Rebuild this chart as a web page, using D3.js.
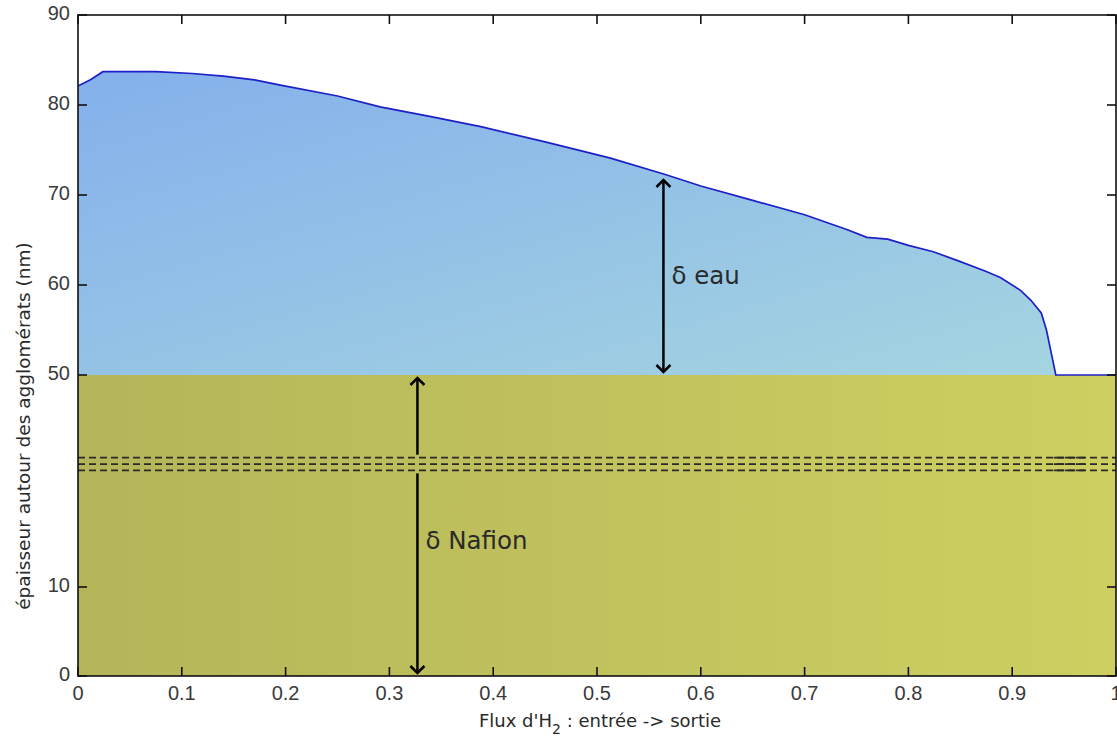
<!DOCTYPE html>
<html>
<head>
<meta charset="utf-8">
<script src="https://cdn.jsdelivr.net/npm/d3@7"></script>
<style>
html,body{margin:0;padding:0;background:#fff;}
svg{display:block;}
text{font-family:"Liberation Sans",Arial,sans-serif;}
</style>
</head>
<body>
<svg id="chart" width="1117" height="744"></svg>
<script>
// ---- data ----
const fluxX = [0, 0.012, 0.024, 0.075, 0.11, 0.14, 0.17, 0.195, 0.25, 0.291, 0.34, 0.388, 0.45, 0.513, 0.565, 0.6, 0.65, 0.7, 0.74, 0.76, 0.78, 0.8, 0.824, 0.85, 0.875, 0.889, 0.908, 0.918, 0.928, 0.933, 0.937, 0.942, 1.0];
const eauTop = [82.1, 82.8, 83.7, 83.7, 83.5, 83.2, 82.8, 82.2, 81.0, 79.8, 78.7, 77.6, 75.9, 74.1, 72.3, 71.0, 69.4, 67.8, 66.2, 65.3, 65.1, 64.4, 63.7, 62.6, 61.5, 60.8, 59.4, 58.3, 56.9, 55.0, 52.8, 50.0, 50.0];
const nafionTop = 50;
const xTicks = [0, 0.1, 0.2, 0.3, 0.4, 0.5, 0.6, 0.7, 0.8, 0.9, 1];
const yTicks = [0, 10, 50, 60, 70, 80, 90];
const breakValues = [32.0, 33.2, 34.4];
const arrowEau = {x: 0.564, from: 50, to: 72.0, label: "δ eau", labelY: 60.9};
const arrowNafion = {x: 0.327, from: 0, to: 50, label: "δ Nafion", labelY: 18.5};

// ---- layout ----
const svg = d3.select("#chart");
const L = 78, R = 1116, T = 15, B = 676;
const x = d3.scaleLinear().domain([0, 1]).range([L, R]);
const y = d3.scaleLinear().domain([0, 10, 50, 90]).range([B, 587, 375, T]);

const defs = svg.append("defs");
const gBlue = defs.append("linearGradient").attr("id", "gBlue")
  .attr("x1", 0).attr("y1", 0).attr("x2", 1).attr("y2", 1);
gBlue.append("stop").attr("offset", "0%").attr("stop-color", "#84b0ec");
gBlue.append("stop").attr("offset", "100%").attr("stop-color", "#a6d6e0");
const gOlive = defs.append("linearGradient").attr("id", "gOlive")
  .attr("x1", 0).attr("y1", 0).attr("x2", 1).attr("y2", 0);
gOlive.append("stop").attr("offset", "0%").attr("stop-color", "#b4b559");
gOlive.append("stop").attr("offset", "100%").attr("stop-color", "#cecf61");

const pts = fluxX.map((d, i) => [d, eauTop[i]]);

// water area
svg.append("path")
  .datum(pts)
  .attr("fill", "url(#gBlue)")
  .attr("d", d3.area().x(d => x(d[0])).y0(y(nafionTop)).y1(d => y(d[1])));

// nafion area
svg.append("rect")
  .attr("x", x(0)).attr("y", y(nafionTop))
  .attr("width", x(1) - x(0)).attr("height", y(0) - y(nafionTop))
  .attr("fill", "url(#gOlive)");

// curve line
svg.append("path")
  .datum(pts)
  .attr("fill", "none").attr("stroke", "#1c20c8").attr("stroke-width", 1.7)
  .attr("d", d3.line().x(d => x(d[0])).y(d => y(d[1])));

// break dashed lines
breakValues.forEach(v => {
  svg.append("line")
    .attr("x1", x(0)).attr("x2", x(1))
    .attr("y1", y(v)).attr("y2", y(v))
    .attr("stroke", "#2a2a2a").attr("stroke-width", 1.8)
    .attr("stroke-dasharray", "7,4");
  svg.append("line")
    .attr("x1", x(0.94)).attr("x2", x(0.97))
    .attr("y1", y(v)).attr("y2", y(v))
    .attr("stroke", "#2a2a2a").attr("stroke-width", 1.8)
    .attr("stroke-dasharray", "10,1");
});

// arrows
function arrow(a, gap) {
  const g = svg.append("g").attr("stroke", "#000").attr("stroke-width", 2.5).attr("fill", "none");
  const xa = x(a.x), y1 = y(a.from) - 3, y2 = y(a.to) + 3;
  if (gap) {
    g.append("line").attr("x1", xa).attr("x2", xa).attr("y1", y1).attr("y2", y(gap[0]) + 3);
    g.append("line").attr("x1", xa).attr("x2", xa).attr("y1", y(gap[1]) - 3).attr("y2", y2);
  } else {
    g.append("line").attr("x1", xa).attr("x2", xa).attr("y1", y1).attr("y2", y2);
  }
  g.append("path").attr("d", `M${xa - 7},${y2 + 7}L${xa},${y2}L${xa + 7},${y2 + 7}`);
  g.append("path").attr("d", `M${xa - 7},${y1 - 7}L${xa},${y1}L${xa + 7},${y1 - 7}`);
  svg.append("text").attr("x", xa + 8).attr("y", y(a.labelY))
    .attr("dominant-baseline", "middle")
    .style("font-family", "'DejaVu Sans', Verdana, sans-serif")
    .attr("font-size", 24.5).attr("fill", "#2a2a2a").text(a.label);
}
arrow(arrowEau, null);
arrow(arrowNafion, [breakValues[0], breakValues[2]]);

// axes frame
const axisG = svg.append("g").attr("stroke", "#111").attr("stroke-width", 1.6);
axisG.append("rect").attr("x", x(0)).attr("y", y(90)).attr("width", x(1) - x(0)).attr("height", y(0) - y(90)).attr("fill", "none");

// ticks (inward, mirrored)
const tk = 9;
svg.append("g").selectAll("line").data(xTicks).join("line")
  .attr("x1", d => x(d)).attr("x2", d => x(d)).attr("y1", y(0)).attr("y2", y(0) - tk)
  .attr("stroke", "#111").attr("stroke-width", 1.6);
svg.append("g").selectAll("line").data(xTicks).join("line")
  .attr("x1", d => x(d)).attr("x2", d => x(d)).attr("y1", y(90)).attr("y2", y(90) + tk)
  .attr("stroke", "#111").attr("stroke-width", 1.6);
svg.append("g").selectAll("line").data(yTicks).join("line")
  .attr("x1", x(0)).attr("x2", x(0) + tk).attr("y1", d => y(d)).attr("y2", d => y(d))
  .attr("stroke", "#111").attr("stroke-width", 1.6);
svg.append("g").selectAll("line").data(yTicks).join("line")
  .attr("x1", x(1)).attr("x2", x(1) - tk).attr("y1", d => y(d)).attr("y2", d => y(d))
  .attr("stroke", "#111").attr("stroke-width", 1.6);

// tick labels
svg.append("g").selectAll("text").data(xTicks).join("text")
  .attr("x", d => x(d)).attr("y", y(0) + 24)
  .attr("text-anchor", "middle").attr("font-size", 20).attr("fill", "#3a3a3a")
  .text(d => d3.format("")(d));
svg.append("g").selectAll("text").data(yTicks).join("text")
  .attr("x", x(0) - 8).attr("y", d => y(d)).attr("dominant-baseline", "middle")
  .attr("text-anchor", "end").attr("font-size", 20).attr("fill", "#3a3a3a")
  .text(d => d);

// axis titles
const xl = svg.append("text").attr("x", 600).attr("y", 727)
  .attr("text-anchor", "middle").attr("font-size", 18).attr("fill", "#2a2a2a")
  .style("font-family", "'DejaVu Sans', Verdana, sans-serif");
xl.append("tspan").text("Flux d'H");
xl.append("tspan").attr("font-size", 14).attr("dy", 7).text("2");
xl.append("tspan").attr("dy", -7).text(" : entrée -> sortie");

svg.append("text")
  .attr("transform", `translate(30,426) rotate(-90)`)
  .attr("text-anchor", "middle").attr("font-size", 18.5).attr("fill", "#2a2a2a")
  .style("font-family", "'DejaVu Sans', Verdana, sans-serif")
  .text("épaisseur autour des agglomérats (nm)");
</script>
</body>
</html>
